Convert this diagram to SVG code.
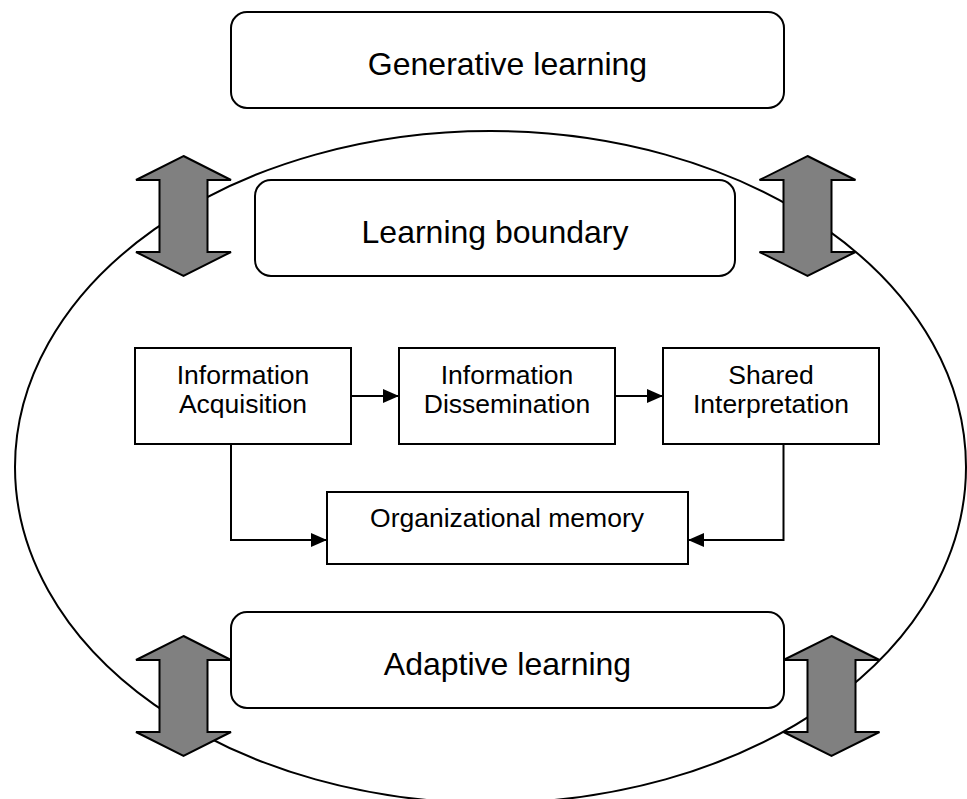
<svg xmlns="http://www.w3.org/2000/svg" width="967" height="799" viewBox="0 0 967 799">
<defs>
<style>
.rr{fill:#fff;stroke:#000;stroke-width:2}
.bx{fill:#fff;stroke:#000;stroke-width:2}
.big{font-family:"Liberation Sans",Arial,sans-serif;font-size:32px;fill:#000;text-anchor:middle}
.sm{font-family:"Liberation Sans",Arial,sans-serif;font-size:26.5px;fill:#000;text-anchor:middle}
.dbl{fill:#808080;stroke:#000;stroke-width:2;stroke-linejoin:miter}
.con{fill:none;stroke:#000;stroke-width:2}
</style>
<marker id="ah" viewBox="0 0 16 14" refX="16" refY="7" markerWidth="16" markerHeight="14" markerUnits="userSpaceOnUse" orient="auto">
<path d="M0,0 L16,7 L0,14 Z" fill="#000"/>
</marker>
</defs>
<rect width="967" height="799" fill="#fff"/>
<ellipse id="boundary-ellipse" cx="490.5" cy="467" rx="475.5" ry="336" fill="none" stroke="#000" stroke-width="2"/>
<g id="generative">
<rect class="rr" x="231" y="12" width="553" height="96" rx="16"/>
<text class="big" x="507.5" y="75">Generative learning</text>
</g>
<g id="learning-boundary">
<rect class="rr" x="255" y="180" width="480" height="96" rx="16"/>
<text class="big" x="495" y="243">Learning boundary</text>
</g>
<g id="adaptive">
<rect class="rr" x="231" y="612" width="553" height="96" rx="16"/>
<text class="big" x="507.5" y="675">Adaptive learning</text>
</g>
<g id="info-acquisition">
<rect class="bx" x="135" y="348" width="216" height="96"/>
<text class="sm" x="243" y="384">Information</text>
<text class="sm" x="243" y="413">Acquisition</text>
</g>
<g id="info-dissemination">
<rect class="bx" x="399" y="348" width="216" height="96"/>
<text class="sm" x="507" y="384">Information</text>
<text class="sm" x="507" y="413">Dissemination</text>
</g>
<g id="shared-interpretation">
<rect class="bx" x="663" y="348" width="216" height="96"/>
<text class="sm" x="771" y="384">Shared</text>
<text class="sm" x="771" y="413">Interpretation</text>
</g>
<g id="org-memory">
<rect class="bx" x="327" y="492" width="361" height="72"/>
<text class="sm" x="507" y="527">Organizational memory</text>
</g>
<g id="connectors">
<line class="con" x1="351" y1="396" x2="399" y2="396" marker-end="url(#ah)"/>
<line class="con" x1="615" y1="396" x2="663" y2="396" marker-end="url(#ah)"/>
<polyline class="con" points="231,444 231,540 327,540" marker-end="url(#ah)"/>
<polyline class="con" points="783.5,444 783.5,540 688,540" marker-end="url(#ah)"/>
</g>
<g id="double-arrows">
<polygon class="dbl" points="183.5,156 231,180 207.5,180 207.5,252 231,252 183.5,276 136,252 159.5,252 159.5,180 136,180"/>
<polygon class="dbl" points="807.5,156 855.5,180 831.5,180 831.5,252 855.5,252 807.5,276 759.5,252 783.5,252 783.5,180 759.5,180"/>
<polygon class="dbl" points="183.5,636 231,660 207.5,660 207.5,732 231,732 183.5,756 136,732 159.5,732 159.5,660 136,660"/>
<polygon class="dbl" points="831.5,636 879.5,660 855.5,660 855.5,732 879.5,732 831.5,756 783.5,732 807.5,732 807.5,660 783.5,660"/>
</g>
</svg>
